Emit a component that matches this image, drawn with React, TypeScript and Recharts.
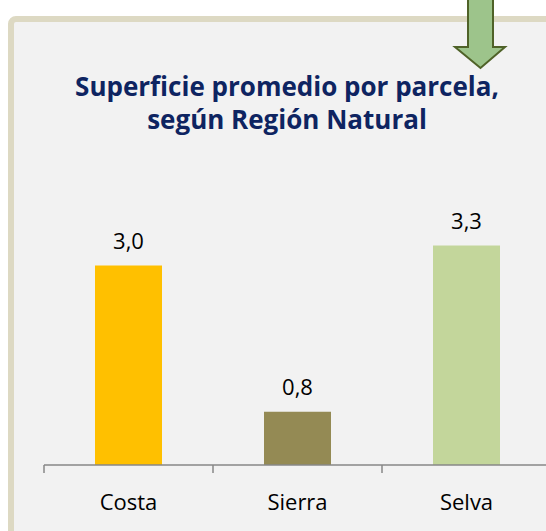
import React from "react";
import { BarChart, Bar, XAxis, YAxis, Cell, LabelList } from "recharts";

const categories = ["Costa", "Sierra", "Selva"];
const values = [3.0, 0.8, 3.3];
const barColors = ["#FFC000", "#948A54", "#C3D69B"];
const titleLines = ["Superficie promedio por parcela,", "según Región Natural"];

const data = categories.map((name, i) => ({ name, value: values[i] }));

const fmt = (v: any) => Number(v).toFixed(1).replace(".", ",");

const FONT = "'Open Sans', sans-serif";
const AXIS_COLOR = "#878787";

const CategoryTick = (props: any) => {
  const { x, y, payload } = props;
  const half = payload && payload.offset ? payload.offset : 84.5;
  const left = x - half;
  return (
    <g>
      <line x1={left} y1={y} x2={left} y2={y + 8} stroke={AXIS_COLOR} strokeWidth={1.5} />
      <text x={x} y={y + 45} textAnchor="middle" fill="#000" fontSize={22} fontFamily={FONT}>
        {payload.value}
      </text>
    </g>
  );
};

export default function App() {
  return (
    <div
      style={{
        position: "absolute",
        left: 0,
        top: 0,
        width: 546,
        height: 531,
        overflow: "hidden",
        background: "#ffffff",
      }}
    >
      <div
        style={{
          position: "absolute",
          left: 8,
          top: 16,
          width: 620,
          height: 620,
          background: "#F2F2F2",
          border: "6px solid #DDD9C3",
          borderRadius: 8,
          boxSizing: "border-box",
        }}
      />
      <div
        style={{
          position: "absolute",
          left: 0,
          top: 70,
          width: 574,
          textAlign: "center",
          fontFamily: FONT,
          fontWeight: 700,
          fontSize: 26,
          lineHeight: "33px",
          color: "#0E2461",
        }}
      >
        {titleLines.map((t) => (
          <div key={t}>{t}</div>
        ))}
      </div>
      <div style={{ position: "absolute", left: 0, top: 0 }}>
        <BarChart
          width={560}
          height={531}
          data={data}
          margin={{ top: 199, right: 9, bottom: 0, left: 44 }}
        >
          <XAxis
            dataKey="name"
            height={66}
            axisLine={{ stroke: AXIS_COLOR, strokeWidth: 1.5 }}
            tickLine={false}
            tickSize={0}
            tickMargin={0}
            tick={<CategoryTick />}
            interval={0}
          />
          <YAxis hide domain={[0, 4]} />
          <Bar dataKey="value" barSize={67} isAnimationActive={false}>
            {data.map((d, i) => (
              <Cell key={d.name} fill={barColors[i]} />
            ))}
            <LabelList
              dataKey="value"
              position="top"
              offset={17}
              formatter={fmt}
              fill="#000"
              fontSize={22}
              fontFamily={FONT}
            />
          </Bar>
        </BarChart>
      </div>
      <svg
        width={546}
        height={531}
        style={{ position: "absolute", left: 0, top: 0, pointerEvents: "none" }}
      >
        <path
          d="M468,-2 L493,-2 L493,47 L505,47 L480.5,68 L455,47 L468,47 Z"
          fill="#9DC48B"
          stroke="#4F6228"
          strokeWidth={2}
          strokeLinejoin="miter"
        />
      </svg>
    </div>
  );
}
